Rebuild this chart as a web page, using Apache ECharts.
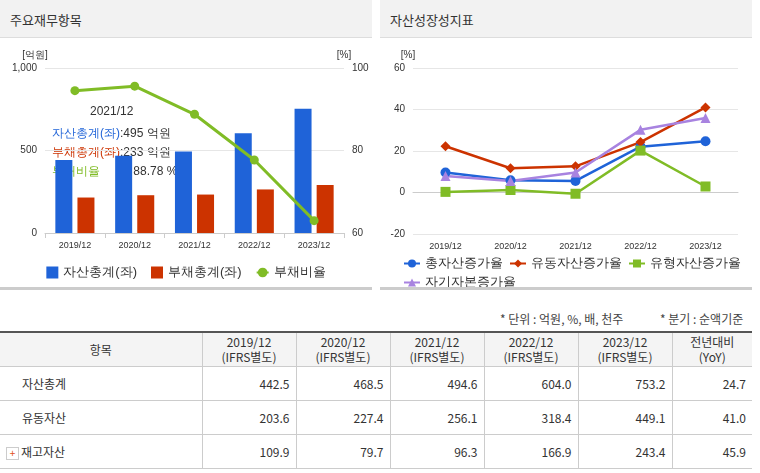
<!DOCTYPE html>
<html><head><meta charset="utf-8">
<script src="https://cdn.jsdelivr.net/npm/echarts@6/dist/echarts.min.js"></script>
<style>
body{margin:0;width:760px;height:473px;overflow:hidden;background:#fff;font-family:"Noto Sans CJK KR",sans-serif;position:relative}
.hd{position:absolute;top:0;height:38px;background:#f2f2f2;border-bottom:1px solid #ddd;font-size:13px;line-height:40px;padding-left:10px;color:#333;box-sizing:border-box}
.sep{position:absolute;top:287px;height:3px;background:#ccc}
#c1{position:absolute;left:0;top:40px;width:372px;height:248px}
#c2{position:absolute;left:380px;top:40px;width:372px;height:248px}
.note{position:absolute;top:310px;font-size:12px;color:#444}
table{position:absolute;left:0;top:331px;width:752px;border-collapse:collapse;font-size:12px;color:#333;border-top:2px solid #555}
td,th{border:1px solid #ccc;border-top:none;height:34px;padding:0 6px;box-sizing:border-box}
th{background:#f4f4f4;font-weight:normal;text-align:center;line-height:15px}
td{text-align:right}
td.l{text-align:left;padding-left:22px}
tr td:first-child,tr th:first-child{border-left:none}
tr td:last-child,tr th:last-child{border-right:none}
</style></head><body>
<div class="hd" style="left:0;width:372px">주요재무항목</div>
<div class="hd" style="left:380px;width:372px">자산성장성지표</div>
<div id="c1"></div><div id="c2"></div>
<div class="sep" style="left:0;width:372px"></div>
<div class="sep" style="left:380px;width:372px"></div>
<div class="note" style="left:500px">* 단위 : 억원, %, 배, 천주</div>
<div class="note" style="left:660px">* 분기 : 순액기준</div>
<table id="tb"></table>
<script>
var years = ['2019/12','2020/12','2021/12','2022/12','2023/12'];
var assets = [442.5,468.5,494.6,604.0,753.2];
var liabilities = [215,229,233,264,291];
var debtRatio = [94.5,95.6,88.78,77.7,63.0];
var totalAssetGrowth = [9.6,5.9,5.6,22.1,24.7];
var currentAssetGrowth = [22.3,11.7,12.6,24.3,41.0];
var tangibleAssetGrowth = [0.3,1.2,-0.6,20.2,2.9];
var equityGrowth = [8.0,5.5,9.6,30.2,35.9];
var tableRows = [
  ['자산총계',['442.5','468.5','494.6','604.0','753.2','24.7']],
  ['유동자산',['203.6','227.4','256.1','318.4','449.1','41.0']],
  ['재고자산',['109.9','79.7','96.3','166.9','243.4','45.9']]
];

var axisLbl = {color:'#333',fontSize:10};
var c1 = echarts.init(document.getElementById('c1'));
c1.setOption({
  animation:false,
  grid:{left:45,right:28,top:28,bottom:55},
  legend:{bottom:4,itemWidth:12,itemHeight:12,itemGap:14,textStyle:{fontSize:13,color:'#333'},
    data:[{name:'자산총계(좌)',icon:'rect'},{name:'부채총계(좌)',icon:'rect'},'부채비율']},
  xAxis:{type:'category',data:years,axisTick:{show:true,lineStyle:{color:'#ccc'}},
    axisLine:{lineStyle:{color:'#ccc'}},axisLabel:{color:'#333',fontSize:9}},
  yAxis:[
    {type:'value',min:0,max:1000,interval:500,name:'[억원]',nameGap:8,nameTextStyle:{fontSize:10,color:'#333',padding:[0,20,0,0]},
     axisLabel:{color:'#333',fontSize:10,formatter:function(v){return v===1000?'1,000':v;}},splitLine:{lineStyle:{color:'#e6e6e6'}}},
    {type:'value',min:60,max:100,interval:20,name:'[%]',nameGap:8,nameTextStyle:{fontSize:10,color:'#333'},
     axisLabel:axisLbl,splitLine:{show:false}}
  ],
  series:[
    {name:'자산총계(좌)',type:'bar',data:assets,barWidth:17,barGap:'30%',itemStyle:{color:'#1f63d8'}},
    {name:'부채총계(좌)',type:'bar',data:liabilities,barWidth:17,itemStyle:{color:'#cc3300'}},
    {name:'부채비율',type:'line',yAxisIndex:1,data:debtRatio,symbol:'circle',symbolSize:9,
     lineStyle:{color:'#80bc26',width:3},itemStyle:{color:'#80bc26'}}
  ],
  graphic:[
    {type:'text',left:90,top:66,style:{text:'2021/12',fontSize:12,fill:'#333'}},
    {type:'text',left:52,top:84,style:{text:'{b|자산총계(좌)}:495 억원\n{r|부채총계(좌)}:233 억원\n{g|부채비율}        : 88.78 %',
      fontSize:12,fill:'#333',lineHeight:19,rich:{b:{fill:'#1f63d8',fontSize:12},r:{fill:'#cc3300',fontSize:12},g:{fill:'#80bc26',fontSize:12}}}}
  ]
});

var c2 = echarts.init(document.getElementById('c2'));
function ln(name,data,color,sym,size){
  return {name:name,type:'line',data:data,symbol:sym,symbolSize:size,lineStyle:{color:color,width:2.5},itemStyle:{color:color}};
}
c2.setOption({
  animation:false,
  grid:{left:33,right:14,top:28,bottom:54},
  legend:{left:18,top:212,width:360,itemWidth:16,itemHeight:10,itemGap:6,textStyle:{fontSize:12.5,color:'#333'}},
  xAxis:{type:'category',data:years,axisLine:{lineStyle:{color:'#ccc'}},axisTick:{lineStyle:{color:'#ccc'}},axisLabel:{color:'#333',fontSize:9}},
  yAxis:{type:'value',min:-20,max:60,interval:20,name:'[%]',nameGap:8,nameTextStyle:{fontSize:10,color:'#333',padding:[0,10,0,0]},
    axisLabel:axisLbl,splitLine:{lineStyle:{color:'#e6e6e6'}}},
  series:[
    ln('총자산증가율',totalAssetGrowth,'#1f63d8','circle',10),
    ln('유동자산증가율',currentAssetGrowth,'#cc3300','diamond',10),
    ln('유형자산증가율',tangibleAssetGrowth,'#80bc26','rect',10),
    ln('자기자본증가율',equityGrowth,'#a883e0','triangle',10)
  ]
});

var h = '<tr><th style="width:202px">항목</th>';
years.forEach(function(y){h+='<th style="width:94px">'+y+'<br>(IFRS별도)</th>';});
h+='<th>전년대비<br>(YoY)</th></tr>';
tableRows.forEach(function(r,i){
  h+='<tr><td class="l"'+(i===2?' style="padding-left:6px"':'')+'>'+(i===2?'<span style="display:inline-block;width:11px;height:11px;border:1px solid #ccc;color:#e05020;font-size:10px;line-height:10px;text-align:center;margin-right:2px">+</span>':'')+r[0]+'</td>';
  r[1].forEach(function(v){h+='<td>'+v+'</td>';});
  h+='</tr>';
});
document.getElementById('tb').innerHTML=h;
</script>
</body></html>
